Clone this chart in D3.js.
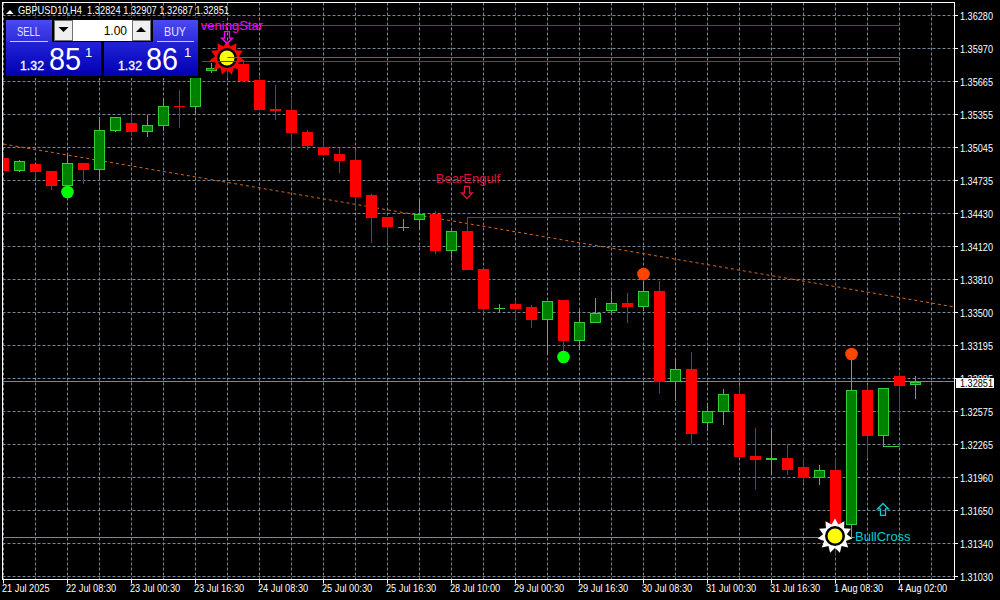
<!DOCTYPE html>
<html><head><meta charset="utf-8">
<script src="https://cdn.jsdelivr.net/npm/d3@7"></script>
<style>html,body{margin:0;padding:0;background:#000;overflow:hidden}svg{display:block}text{font-family:"Liberation Sans",sans-serif}</style>
</head><body><svg id="c" width="1000" height="600"></svg>
<script>
const title="GBPUSD10,H4  1.32824 1.32907 1.32687 1.32851";
const priceTicks=[1.36280,1.35970,1.35665,1.35355,1.35045,1.34735,1.34430,1.34120,1.33810,1.33500,1.33195,1.32885,1.32575,1.32265,1.31960,1.31650,1.31340,1.31030];
const timeLabels=["21 Jul 2025","22 Jul 08:30","23 Jul 00:30","23 Jul 16:30","24 Jul 08:30","25 Jul 00:30","25 Jul 16:30","28 Jul 10:00","29 Jul 00:30","29 Jul 16:30","30 Jul 08:30","31 Jul 00:30","31 Jul 16:30","1 Aug 08:30","4 Aug 02:00"];
const opens=[1.34946,1.34825,1.34890,1.34825,1.34684,1.34900,1.34834,1.35199,1.35274,1.35190,1.35246,1.35433,1.35424,1.35761,1.35901,1.35826,1.35676,1.35405,1.35396,1.35190,1.35049,1.34984,1.34928,1.34600,1.34394,1.34301,1.34366,1.34422,1.34076,1.34263,1.33908,1.33543,1.33580,1.33552,1.33430,1.33618,1.33234,1.33402,1.33515,1.33590,1.33552,1.33702,1.32850,1.32972,1.32467,1.32570,1.32738,1.32158,1.32120,1.32139,1.32055,1.31952,1.32027,1.31512,1.32775,1.32345,1.32906,1.32824];
const highs=[1.34993,1.34928,1.34890,1.34825,1.34993,1.34900,1.35330,1.35330,1.35339,1.35349,1.35508,1.35583,1.35733,1.35835,1.35985,1.35864,1.35714,1.35630,1.35527,1.35208,1.35124,1.35040,1.35021,1.34610,1.34394,1.34376,1.34553,1.34450,1.34291,1.34394,1.33908,1.33580,1.33618,1.33571,1.33608,1.33618,1.33533,1.33636,1.33702,1.33683,1.33795,1.33795,1.33065,1.33131,1.32644,1.32785,1.32822,1.32420,1.32410,1.32270,1.32139,1.32074,1.32139,1.33056,1.32813,1.32794,1.32934,1.32907];
const lows=[1.34825,1.34815,1.34759,1.34647,1.34684,1.34703,1.34759,1.35190,1.35152,1.35143,1.35199,1.35227,1.35368,1.35742,1.35695,1.35658,1.35396,1.35302,1.35040,1.35021,1.34975,1.34806,1.34469,1.34151,1.34151,1.34263,1.34282,1.34048,1.34011,1.33898,1.33496,1.33505,1.33440,1.33356,1.33122,1.33140,1.33168,1.33402,1.33496,1.33402,1.33515,1.32738,1.32672,1.32270,1.32392,1.32448,1.32148,1.31840,1.31980,1.31980,1.31905,1.31886,1.31231,1.31400,1.32148,1.32242,1.32513,1.32687];
const closes=[1.34825,1.34918,1.34815,1.34684,1.34900,1.34834,1.35208,1.35330,1.35190,1.35255,1.35433,1.35424,1.35733,1.35789,1.35864,1.35667,1.35396,1.35386,1.35180,1.35059,1.34975,1.34918,1.34581,1.34385,1.34301,1.34301,1.34422,1.34076,1.34263,1.33898,1.33533,1.33543,1.33533,1.33430,1.33608,1.33234,1.33412,1.33496,1.33590,1.33552,1.33702,1.32850,1.32972,1.32364,1.32579,1.32738,1.32148,1.32120,1.32139,1.32027,1.31952,1.32027,1.31418,1.32775,1.32345,1.32794,1.32813,1.32851];
const currentPrice=1.32851;
const trendLine=[[0,1.35077],[59.44,1.33552]];
const levels=[{from:12.4,to:56,p:1.36191,c:"#e01010"},{from:12.4,to:56,p:1.35854,c:"#e01010"},{from:14,to:56,p:1.35887,c:"#e010c0"},{from:29,to:56,p:1.34394,c:"#c81818"},{from:0,to:53.2,p:1.31395,c:"#4caf3c"},{from:55,to:56,p:1.32242,c:"#32cd32"}];
const dots=[{i:4,p:1.34628,c:"#00ff00"},{i:35,p:1.33084,c:"#00ff00"},{i:40,p:1.33861,c:"#ff4500"},{i:53,p:1.33112,c:"#ff4500"}];
const suns=[{i:14,p:1.35882,c:"#ff0000"},{i:52,p:1.31409,c:"#ffffff"}];
const arrows=[{i:14,p:1.36069,dir:1,c:"#ff00ff"},{i:29,p:1.34619,dir:1,c:"#dc143c"},{i:55,p:1.31662,dir:-1,c:"#00ced1"}];
const notes=[{t:"EveningStar",i:14,p:1.36185,dx:35.5,c:"#ff00ff",a:"end"},{t:"BearEngulf",i:29,p:1.34755,dx:0.5,c:"#dc143c",a:"middle"},{t:"BullCross",i:53,p:1.31400,dx:3.5,c:"#00ced1",a:"start"}];

const svg=d3.select("#c");
const L=2.5,R=954.5,T=2.5,B=579.5;
const x=d3.scaleLinear().domain([0,1]).range([3.5,19.5]);
const y=d3.scaleLinear().domain([1.36280,1.31030]).range([15.5,576.5]);
const ry=p=>Math.round(y(p)-0.5)+0.5;
const GREEN="#32cd32",FILLG="#008000",RED="#ff0000",GRID="#778899";
svg.append("clipPath").attr("id","pl").append("rect").attr("x",L).attr("y",T).attr("width",R-L).attr("height",B-T);
const plot=svg.append("g").attr("clip-path","url(#pl)");
const n=opens.length;

// grid
plot.append("g").selectAll("line").data(priceTicks).join("line")
 .attr("x1",L).attr("x2",R).attr("y1",ry).attr("y2",ry)
 .attr("stroke",GRID).attr("stroke-dasharray","3,2");
plot.append("g").selectAll("line").data(d3.range(0,60,2)).join("line")
 .attr("x1",d=>x(d)).attr("x2",d=>x(d)).attr("y1",T).attr("y2",B)
 .attr("stroke",GRID).attr("stroke-dasharray","3,2");

// lines behind candles
plot.append("line").attr("x1",x(trendLine[0][0])).attr("y1",y(trendLine[0][1])).attr("x2",x(trendLine[1][0])).attr("y2",y(trendLine[1][1]))
 .attr("stroke","#d2691e").attr("stroke-dasharray","3,3");
plot.append("line").attr("x1",L).attr("x2",R).attr("y1",ry(currentPrice)).attr("y2",ry(currentPrice)).attr("stroke",GRID);
plot.append("g").selectAll("line").data(levels).join("line")
 .attr("x1",d=>x(d.from)).attr("x2",d=>x(d.to)).attr("y1",d=>ry(d.p)).attr("y2",d=>ry(d.p)).attr("stroke",d=>d.c);

// candles
const cg=plot.append("g");
d3.range(n).forEach(i=>{
  const up=closes[i]>=opens[i], cx=x(i);
  const top=Math.round(y(Math.max(opens[i],closes[i]))), bot=Math.round(y(Math.min(opens[i],closes[i])));
  cg.append("line").attr("x1",cx).attr("x2",cx).attr("y1",Math.round(y(highs[i]))).attr("y2",Math.round(y(lows[i])))
    .attr("stroke",up?GREEN:RED);
  if(bot-top<=1){
    cg.append("rect").attr("x",cx-5.5).attr("y",top).attr("width",11).attr("height",1).attr("fill",up?GREEN:RED);
  }else{
    cg.append("rect").attr("x",cx-5).attr("y",top+.5).attr("width",10).attr("height",bot-top-1)
      .attr("fill",up?FILLG:RED).attr("stroke",up?GREEN:RED);
  }
});

// dots
plot.append("g").selectAll("circle").data(dots).join("circle")
 .attr("cx",d=>x(d.i)).attr("cy",d=>y(d.p)).attr("r",6.3).attr("fill",d=>d.c);

// suns
const spikes=11;
const starPts=d3.range(spikes*2).map(k=>[k*Math.PI/spikes,k%2?12:17.5]);
const starPath=d3.lineRadial().curve(d3.curveLinearClosed)(starPts);
suns.forEach(s=>{
  const g=plot.append("g").attr("transform",`translate(${x(s.i)-.5},${y(s.p)})`);
  g.append("path").attr("d",starPath).attr("fill",s.c);
  g.append("circle").attr("r",10).attr("fill","#000");
  g.append("circle").attr("r",7.5).attr("fill","#ffff00");
});
// the level lines run over the first sun
[levels[2],levels[1]].forEach(l=>plot.append("line").attr("x1",x(l.from)).attr("x2",x(l.to)).attr("y1",ry(l.p)).attr("y2",ry(l.p)).attr("stroke",l.c));

// arrows
const arrowPath="M-2.5,-6.5H2.5V0H5.5L0,5.5L-5.5,0H-2.5Z";
plot.append("g").selectAll("path").data(arrows).join("path").attr("d",arrowPath)
 .attr("transform",d=>`translate(${x(d.i)-.5},${y(d.p)}) scale(1,${d.dir})`)
 .attr("fill","none").attr("stroke",d=>d.c).attr("stroke-width",1.3);

// notes
plot.append("g").selectAll("text").data(notes).join("text").text(d=>d.t)
 .attr("x",d=>x(d.i)+d.dx).attr("y",d=>y(d.p)+4.5).attr("text-anchor",d=>d.a)
 .attr("fill",d=>d.c).attr("font-size",13);

// frame and axes
svg.append("rect").attr("x",L).attr("y",T).attr("width",R-L).attr("height",B-T).attr("fill","none").attr("stroke","#fff");
const ax=svg.append("g");
ax.selectAll("line").data(priceTicks).join("line").attr("x1",R).attr("x2",R+3.5).attr("y1",ry).attr("y2",ry).attr("stroke","#fff");
ax.selectAll("text").data(priceTicks).join("text").text(d=>d.toFixed(5)).attr("x",960).attr("y",d=>ry(d)+4)
 .attr("fill","#fff").attr("font-size",10.5).attr("textLength",33).attr("lengthAdjust","spacingAndGlyphs");
const bx=svg.append("g");
bx.selectAll("line").data(timeLabels).join("line").attr("x1",(d,i)=>x(i*4)).attr("x2",(d,i)=>x(i*4)).attr("y1",B).attr("y2",B+4).attr("stroke","#fff");
bx.selectAll("text").data(timeLabels).join("text").text(d=>d).attr("x",(d,i)=>x(i*4)-1.5).attr("y",592)
 .attr("fill","#fff").attr("font-size",10).each(function(){
   d3.select(this).attr("textLength",this.getComputedTextLength()*0.92).attr("lengthAdjust","spacingAndGlyphs");});
// current price tag
svg.append("rect").attr("x",956).attr("y",378).attr("width",38).attr("height",10).attr("fill","#fff");
svg.append("text").text(currentPrice.toFixed(5)).attr("x",960).attr("y",386.5).attr("fill","#000").attr("font-size",10.5).attr("textLength",33).attr("lengthAdjust","spacingAndGlyphs");

// header
svg.append("path").attr("d","M6,14L10,10L13.5,14Z").attr("fill","#fff");
svg.append("text").text(title).attr("x",18).attr("y",14).attr("fill","#fff").attr("font-size",10.5).attr("textLength",211).attr("lengthAdjust","spacingAndGlyphs").style("white-space","pre");

// trading panel
const defs=svg.append("defs");
const grad=(id,a,b)=>{const g=defs.append("linearGradient").attr("id",id).attr("x1",0).attr("x2",0).attr("y1",0).attr("y2",1);
  g.append("stop").attr("offset",0).attr("stop-color",a);g.append("stop").attr("offset",1).attr("stop-color",b);};
grad("gb","#4a4af2","#2a2ad8");grad("gp","#2222d8","#0000b0");
const P=svg.append("g");
P.append("rect").attr("x",4).attr("y",18).attr("width",197).attr("height",60).attr("fill","#000");
const side=(bx0,bw,px0,pw,label,lx,lw,big,smallX,bigX,supX)=>{
  P.append("rect").attr("x",bx0).attr("y",20).attr("width",bw).attr("height",23).attr("fill","url(#gb)");
  P.append("rect").attr("x",px0).attr("y",42).attr("width",pw).attr("height",34).attr("fill","url(#gp)");
  P.append("line").attr("x1",bx0+4).attr("x2",bx0+bw-4).attr("y1",41.5).attr("y2",41.5).attr("stroke","#c8c8ff");
  P.append("text").text(label).attr("x",lx).attr("y",36).attr("fill","#e4e4ff").attr("font-size",13).attr("textLength",lw).attr("lengthAdjust","spacingAndGlyphs");
  P.append("text").text("1.32").attr("x",smallX).attr("y",70).attr("fill","#fff").attr("font-size",13).attr("textLength",24).attr("lengthAdjust","spacingAndGlyphs").attr("stroke","#fff").attr("stroke-width",0.3);
  P.append("text").text(big).attr("x",bigX).attr("y",70).attr("fill","#fff").attr("font-size",32).attr("textLength",32).attr("lengthAdjust","spacingAndGlyphs");
  P.append("text").text("1").attr("x",supX).attr("y",57).attr("fill","#fff").attr("font-size",13);
};
side(6,46,6,95,"SELL",17,23,"85",20,49,85);
side(153,45,104,94,"BUY",164,22,"86",118,146,184);
P.append("rect").attr("x",54).attr("y",20).attr("width",96).attr("height",21).attr("fill","#fff");
[[54,18],[132,18]].forEach(([a,w])=>P.append("rect").attr("x",a+.5).attr("y",20.5).attr("width",w).attr("height",20).attr("fill","#efefef").attr("stroke","#707070"));
P.append("path").attr("d","M58.5,27H68.5L63.5,32Z").attr("fill","#000");
P.append("path").attr("d","M136,32H146L141,27Z").attr("fill","#000");
P.append("text").text("1.00").attr("x",127).attr("y",35).attr("text-anchor","end").attr("fill","#000").attr("font-size",12);
</script></body></html>
